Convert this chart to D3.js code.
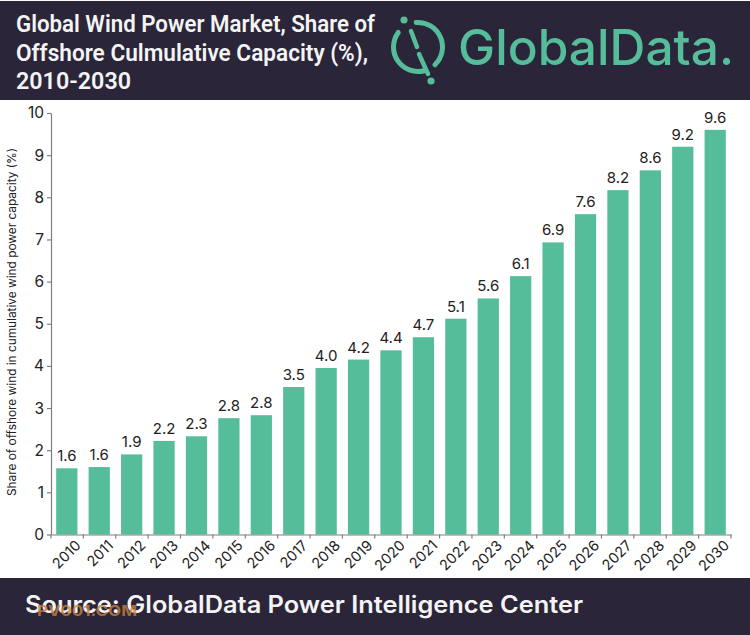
<!DOCTYPE html>
<html><head><meta charset="utf-8">
<script src="https://cdn.jsdelivr.net/npm/d3@7"></script>
<style>html,body{margin:0;padding:0;background:#fff}svg{display:block;font-family:Inter,Lato,sans-serif}</style>
</head><body><svg id="c" width="750" height="635"></svg>
<script>
const years=["2010","2011","2012","2013","2014","2015","2016","2017","2018","2019","2020","2021","2022","2023","2024","2025","2026","2027","2028","2029","2030"];
const values=[1.57,1.6,1.9,2.22,2.33,2.76,2.83,3.5,3.95,4.15,4.37,4.68,5.12,5.6,6.13,6.93,7.6,8.17,8.64,9.2,9.6];
const labels=["1.6","1.6","1.9","2.2","2.3","2.8","2.8","3.5","4.0","4.2","4.4","4.7","5.1","5.6","6.1","6.9","7.6","8.2","8.6","9.2","9.6"];
const yTicks=[0,1,2,3,4,5,6,7,8,9,10];
const titleLines=["Global Wind Power Market, Share of","Offshore Culmulative Capacity (%),","2010-2030"];
const yTitle="Share of offshore wind in cumulative wind power capacity (%)";
const sourceText="Source: GlobalData Power Intelligence Center";
const logoText="GlobalData.";
const watermark="PV001.COM";

const dark="#2a2539",green="#55bd9a",axisCol="#7f7f7f",ink="#222";
const svg=d3.select("#c");
const x=d3.scaleBand().domain(years).range([51,731]).paddingInner(0.345).paddingOuter(0.16);
const y=d3.scaleLinear().domain([0,10]).range([534.5,113]);

// header and footer
svg.append("rect").attr("x",0).attr("y",1).attr("width",750).attr("height",99).attr("fill",dark);
svg.append("rect").attr("x",0).attr("y",578).attr("width",750).attr("height",57).attr("fill",dark);
svg.selectAll("text.t").data(titleLines).join("text").attr("class","t")
  .attr("x",16).attr("y",(d,i)=>32+i*28.6).attr("fill","#f4f4f4")
  .attr("font-size",23).attr("font-weight",600).attr("font-family","Roboto,Lato,sans-serif")
  .attr("textLength",(d,i)=>[359,352,115][i]).attr("lengthAdjust","spacingAndGlyphs").text(d=>d);

// logo
const arc=d3.arc().innerRadius(22).outerRadius(27).cornerRadius(2.4);
const lg=svg.append("g").attr("transform","translate(418,47)").attr("fill",green);
const deg=Math.PI/180;
lg.append("path").attr("d",arc({startAngle:-10*deg,endAngle:142*deg}));
lg.append("path").attr("d",arc({startAngle:160*deg,endAngle:312*deg}));
lg.append("circle").attr("cx",-14).attr("cy",-27).attr("r",3.6);
lg.append("circle").attr("cx",13).attr("cy",34).attr("r",3.6);
const sl=svg.append("g").attr("transform","translate(418,47)").attr("stroke",green).attr("stroke-width",4.5).attr("stroke-linecap","round");
sl.append("line").attr("x1",-7).attr("y1",-16).attr("x2",-1).attr("y2",0);
sl.append("line").attr("x1",1).attr("y1",7).attr("x2",10).attr("y2",27);
svg.append("text").attr("x",458).attr("y",65).attr("fill",green).attr("font-size",50)
  .attr("font-family","Inter,Lato,sans-serif").attr("font-weight",500)
  .attr("textLength",276).attr("lengthAdjust","spacingAndGlyphs").text(logoText);

// bars
svg.selectAll("rect.b").data(values).join("rect").attr("class","b")
  .attr("x",(d,i)=>x(years[i])).attr("y",d=>y(d)).attr("width",x.bandwidth())
  .attr("height",d=>y(0)-y(d)).attr("fill",green);
svg.selectAll("text.v").data(values).join("text").attr("class","v")
  .attr("x",(d,i)=>x(years[i])+x.bandwidth()/2).attr("y",d=>y(d)-7)
  .attr("text-anchor","middle").attr("font-size",15).attr("font-weight",400).attr("fill",ink).text((d,i)=>labels[i]);

// axes
const gy=svg.append("g").attr("transform","translate(51,0)").call(d3.axisLeft(y).tickValues(yTicks).tickSize(4).tickSizeOuter(0).tickFormat(d3.format("d")));
const gx=svg.append("g").attr("transform","translate(0,534.5)").call(d3.axisBottom(x).tickSize(0).tickSizeOuter(0));
gx.selectAll("line.sep").data(years.concat(["end"])).join("line").attr("class","sep")
  .attr("x1",(d,i)=>x.range()[0]+i*(x.range()[1]-x.range()[0])/years.length)
  .attr("x2",(d,i)=>x.range()[0]+i*(x.range()[1]-x.range()[0])/years.length)
  .attr("y1",0).attr("y2",4);
[gy,gx].forEach(g=>{g.selectAll("path,line").attr("stroke",axisCol).attr("stroke-width",1.2);g.selectAll("text").attr("fill",ink).attr("font-family","Inter,Lato,sans-serif");});
gy.selectAll("text").attr("x",-7).attr("font-size",15.5);
gx.selectAll("text").attr("font-size",14.5).attr("text-anchor","end").attr("dx","0.15em").attr("dy","1.1em").attr("transform","rotate(-45)");
svg.append("text").attr("transform","translate(16,322) rotate(-90)").attr("text-anchor","middle")
  .attr("font-size",11.5).attr("fill",ink).attr("font-family","Inter,Lato,sans-serif")
  .attr("textLength",348).attr("lengthAdjust","spacingAndGlyphs").text(yTitle);

// footer text
svg.append("text").attr("x",25).attr("y",613).attr("fill","#f4f4f4").attr("font-size",24).attr("font-weight",600)
  .attr("font-family","Inter,Lato,sans-serif").attr("textLength",558).attr("lengthAdjust","spacingAndGlyphs").text(sourceText);
svg.append("text").attr("x",37).attr("y",616).attr("fill","#c8803f").attr("fill-opacity",0.8).attr("font-size",15).attr("font-weight",700)
  .attr("textLength",100).attr("lengthAdjust","spacingAndGlyphs").text(watermark);
</script></body></html>
